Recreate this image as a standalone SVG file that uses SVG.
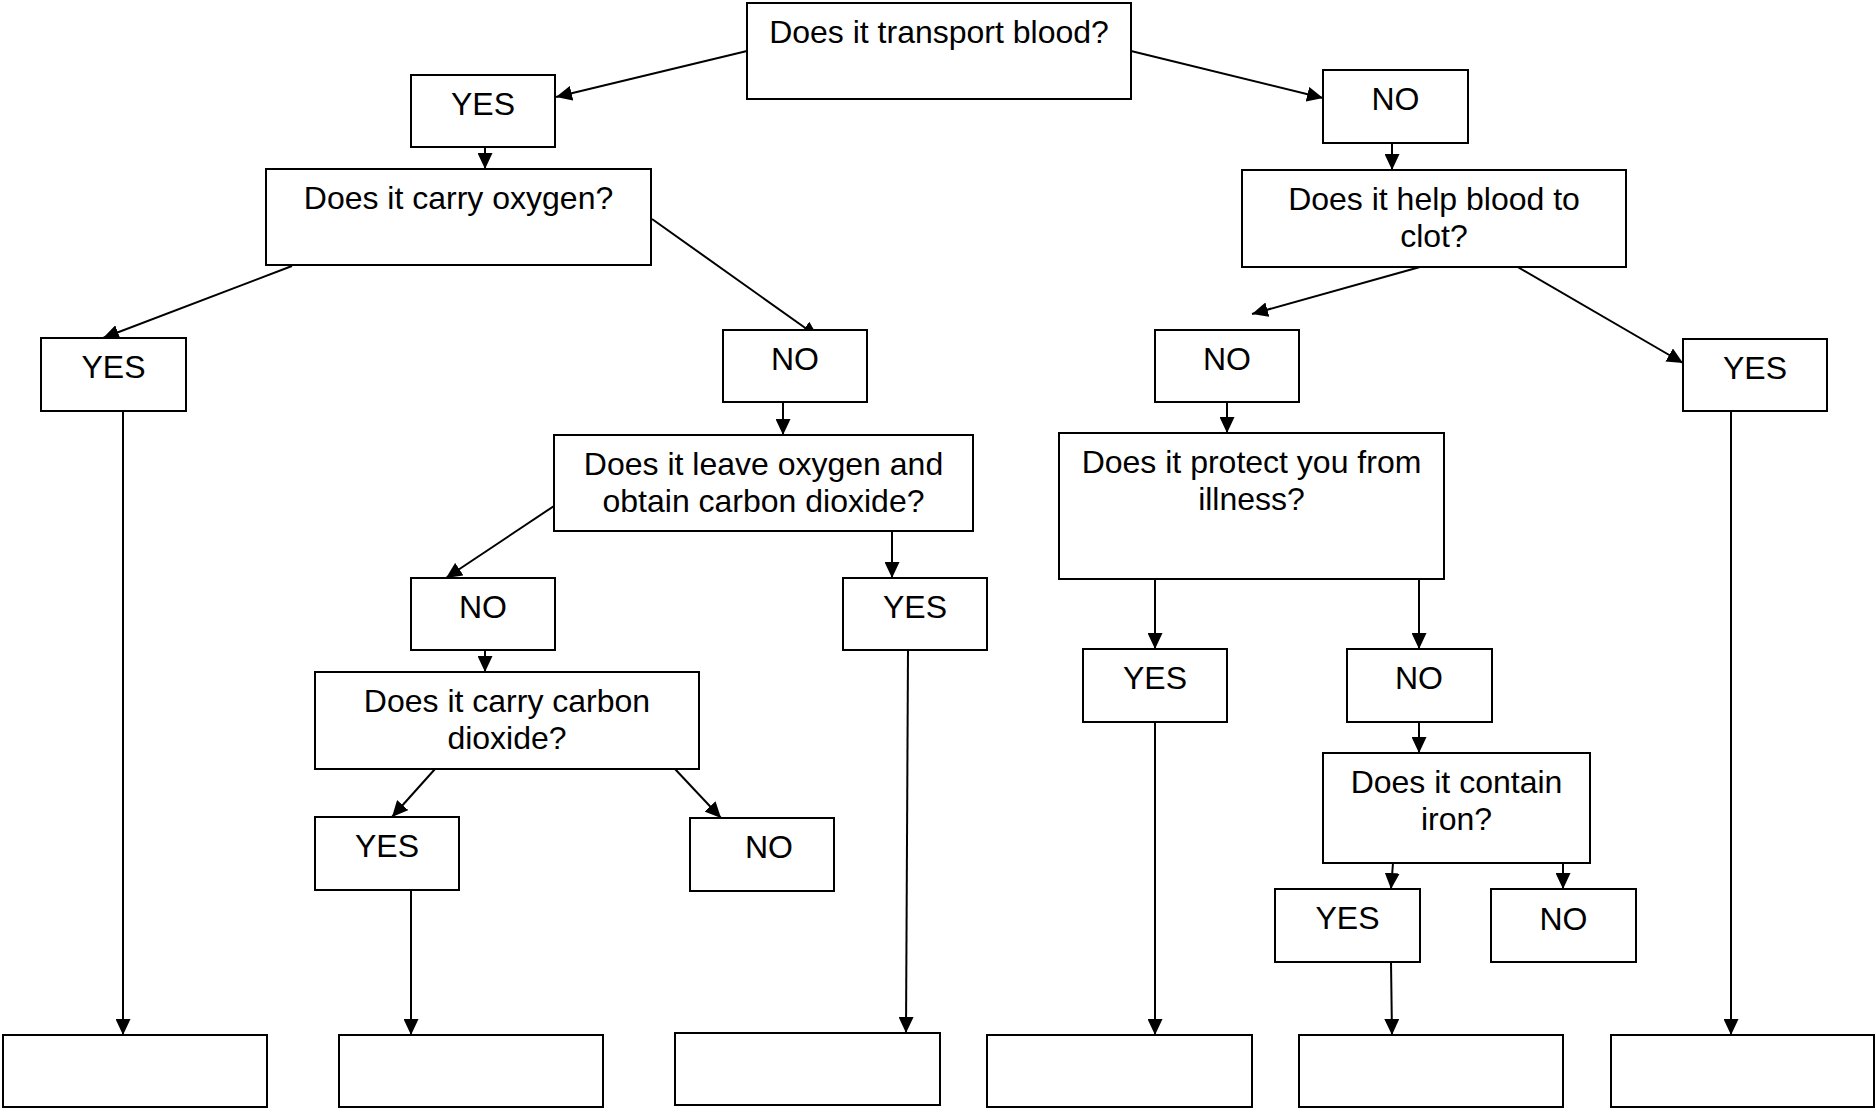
<svg xmlns="http://www.w3.org/2000/svg" width="1876" height="1109" viewBox="0 0 1876 1109">
<style>
.box{fill:#fff;stroke:#000;stroke-width:2}
.t{font-family:"Liberation Sans",Arial,sans-serif;font-size:32px;fill:#000;text-anchor:middle}
.c line{stroke:#000;stroke-width:2;fill:none;marker-end:url(#ah)}
</style>
<defs>
<marker id="ah" markerUnits="userSpaceOnUse" viewBox="0 0 16 15" refX="16" refY="7.5" markerWidth="16" markerHeight="15" orient="auto">
<path d="M0,0 L16,7.5 L0,15 z" fill="#000"/>
</marker>
</defs>
<rect width="1876" height="1109" fill="#fff"/>
<g class="c" id="connectors">
<line x1="747" y1="51" x2="556" y2="97"/>
<line x1="1131" y1="51" x2="1323" y2="98"/>
<line x1="485" y1="147" x2="485" y2="169"/>
<line x1="1392" y1="143" x2="1392" y2="170"/>
<line x1="292" y1="266" x2="103" y2="338"/>
<line x1="652" y1="219" x2="818" y2="337"/>
<line x1="1420" y1="267" x2="1252" y2="314"/>
<line x1="1516" y1="266" x2="1683" y2="363"/>
<line x1="123" y1="411" x2="123" y2="1035"/>
<line x1="783" y1="402" x2="783" y2="435"/>
<line x1="1227" y1="402" x2="1227" y2="433"/>
<line x1="1731" y1="411" x2="1731" y2="1035"/>
<line x1="554" y1="506" x2="446" y2="578"/>
<line x1="892" y1="531" x2="892" y2="578"/>
<line x1="908" y1="650" x2="906" y2="1033"/>
<line x1="1155" y1="579" x2="1155" y2="649"/>
<line x1="1419" y1="579" x2="1419" y2="649"/>
<line x1="1155" y1="722" x2="1155" y2="1035"/>
<line x1="1419" y1="722" x2="1419" y2="753"/>
<line x1="485" y1="650" x2="485" y2="672"/>
<line x1="435" y1="769" x2="392" y2="817"/>
<line x1="675" y1="769" x2="721" y2="818"/>
<line x1="411" y1="890" x2="411" y2="1035"/>
<line x1="1393" y1="863" x2="1391" y2="889"/>
<line x1="1563" y1="863" x2="1563" y2="889"/>
<line x1="1391" y1="962" x2="1392" y2="1035"/>
</g>
<g id="n-transport"><rect class="box" x="747" y="3" width="384" height="96"/><text class="t" x="939" y="43">Does it transport blood?</text></g>
<g id="n-yes1"><rect class="box" x="411" y="75" width="144" height="72"/><text class="t" x="483" y="115">YES</text></g>
<g id="n-no1"><rect class="box" x="1323" y="70" width="145" height="73"/><text class="t" x="1395.5" y="110">NO</text></g>
<g id="n-oxygen"><rect class="box" x="266" y="169" width="385" height="96"/><text class="t" x="458.5" y="209">Does it carry oxygen?</text></g>
<g id="n-clot"><rect class="box" x="1242" y="170" width="384" height="97"/><text class="t" x="1434" y="210">Does it help blood to</text><text class="t" x="1434" y="247">clot?</text></g>
<g id="n-yes2"><rect class="box" x="41" y="338" width="145" height="73"/><text class="t" x="113.5" y="378">YES</text></g>
<g id="n-no2"><rect class="box" x="723" y="330" width="144" height="72"/><text class="t" x="795" y="370">NO</text></g>
<g id="n-no3"><rect class="box" x="1155" y="330" width="144" height="72"/><text class="t" x="1227" y="370">NO</text></g>
<g id="n-yes3"><rect class="box" x="1683" y="339" width="144" height="72"/><text class="t" x="1755" y="379">YES</text></g>
<g id="n-leave"><rect class="box" x="554" y="435" width="419" height="96"/><text class="t" x="763.5" y="475">Does it leave oxygen and</text><text class="t" x="763.5" y="512">obtain carbon dioxide?</text></g>
<g id="n-protect"><rect class="box" x="1059" y="433" width="385" height="146"/><text class="t" x="1251.5" y="473">Does it protect you from</text><text class="t" x="1251.5" y="510">illness?</text></g>
<g id="n-no4"><rect class="box" x="411" y="578" width="144" height="72"/><text class="t" x="483" y="618">NO</text></g>
<g id="n-yes4"><rect class="box" x="843" y="578" width="144" height="72"/><text class="t" x="915" y="618">YES</text></g>
<g id="n-yes5"><rect class="box" x="1083" y="649" width="144" height="73"/><text class="t" x="1155" y="689">YES</text></g>
<g id="n-no5"><rect class="box" x="1347" y="649" width="145" height="73"/><text class="t" x="1419" y="689">NO</text></g>
<g id="n-co2"><rect class="box" x="315" y="672" width="384" height="97"/><text class="t" x="507" y="712">Does it carry carbon</text><text class="t" x="507" y="749">dioxide?</text></g>
<g id="n-yes6"><rect class="box" x="315" y="817" width="144" height="73"/><text class="t" x="387" y="857">YES</text></g>
<g id="n-no6"><rect class="box" x="690" y="818" width="144" height="73"/><text class="t" x="769" y="858">NO</text></g>
<g id="n-iron"><rect class="box" x="1323" y="753" width="267" height="110"/><text class="t" x="1456.5" y="793">Does it contain</text><text class="t" x="1456.5" y="830">iron?</text></g>
<g id="n-yes7"><rect class="box" x="1275" y="889" width="145" height="73"/><text class="t" x="1347.5" y="929">YES</text></g>
<g id="n-no7"><rect class="box" x="1491" y="889" width="145" height="73"/><text class="t" x="1563.5" y="930">NO</text></g>
<g id="n-t1"><rect class="box" x="3" y="1035" width="264" height="72"/></g>
<g id="n-t2"><rect class="box" x="339" y="1035" width="264" height="72"/></g>
<g id="n-t3"><rect class="box" x="675" y="1033" width="265" height="72"/></g>
<g id="n-t4"><rect class="box" x="987" y="1035" width="265" height="72"/></g>
<g id="n-t5"><rect class="box" x="1299" y="1035" width="264" height="72"/></g>
<g id="n-t6"><rect class="box" x="1611" y="1035" width="263" height="72"/></g>
</svg>
